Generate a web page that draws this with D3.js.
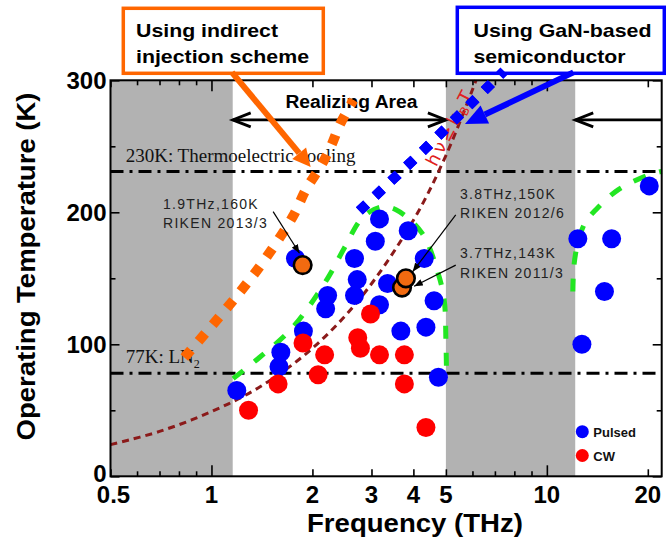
<!DOCTYPE html>
<html><head><meta charset="utf-8">
<script src="https://cdn.jsdelivr.net/npm/d3@7"></script>
<style>body{margin:0;background:#fff}svg{display:block}</style>
</head><body>
<script>
// ---------- data ----------
const pulsedFreq = [1.19,1.61,1.59,1.88,2.22,2.19,1.78,3.17,3.86,3.08,2.67,4.31,2.72,3.35,2.67,3.17,4.61,3.67,4.36,4.75,20.2,12.37,15.6,14.85,12.72];
const pulsedTemp = [65,94,83,110,137,127,165,195,186,178,165,165,149,146,137,130,133,110,113,75,220,180,180,140,100];
const cwFreq = [1.29,1.58,1.875,2.175,2.08,2.98,2.73,2.78,3.17,3.76,3.76,4.36];
const cwTemp = [50,70,101,92,77,123,105,97,92,92,70,37];
const rikenFreq = [1.87,3.7,3.8];
const rikenTemp = [160,143,150];
const rikenLabel1 = ["1.9THz,160K","3.7THz,143K","3.8THz,150K"];
const rikenLabel2 = ["RIKEN 2013/3","RIKEN 2011/3","RIKEN 2012/6"];

const indirectFreq = [0.83,1.01,1.22,1.44,1.75,1.92,2.13,2.28,2.41,2.65];
const indirectTemp = [90,115,140,164,197,218,236,251,266,285];
const ganFreq = [2.76,4.33,7.45];
const ganTemp = [201,248,307];
const hvFreq = [0.5,0.7,1,1.4,2,2.8,4,5,6.15];
const hvTemp = [24,34,49,68,97,136,194,243,300];
const green1Freq = [1.16,1.39,1.75,2.22,2.49,2.82,3.2,3.55,4.25,4.71,4.94,5.0,5.02];
const green1Temp = [74,90,113,150,173,196,204,202,184,156,134,103,80];
const green2Freq = [11.95,12.05,12.4,13.0,14.0,16.3,20,22];
const green2Temp = [140,160,178,192,202,217,228,231];

const grayStart = [0.5,5];
const grayEnd = [1.157,12.15];
const levelTemps = [231,78];

const xTickLabels = [0.5,1,2,3,4,5,10,20];
const xDecadeTicks = [1,10];
const xMidTicks = [0.5,2,3,4,5,20];
const xMinorTicks = [0.6,0.7,0.8,0.9,6,7,8,9];
const yMajorTicks = [0,100,200,300];
const yMinorTicks = [50,150,250];

// ---------- setup ----------
const W=666,H=544;
const svg=d3.select("body").append("svg").attr("width",W).attr("height",H)
  .style("font-family","'Liberation Sans', Arial, sans-serif");
const x=d3.scaleLog().domain([0.5,22]).range([110.5,661.7]);
const y=d3.scaleLinear().domain([0,300]).range([476.3,80.3]);
const X0=x.range()[0],X1=x.range()[1],Y0=y.range()[0],Y1=y.range()[1];

const defs=svg.append("defs");
defs.append("marker").attr("id","ah").attr("viewBox","0 0 10 8").attr("refX",10).attr("refY",4)
  .attr("markerWidth",9).attr("markerHeight",7).attr("markerUnits","userSpaceOnUse").attr("orient","auto")
  .append("path").attr("d","M0,0L10,4L0,8z").attr("fill","#000");

// gray regions
svg.selectAll("rect.gray").data(grayStart).join("rect").attr("class","gray")
  .attr("x",d=>x(d)).attr("width",(d,i)=>x(grayEnd[i])-x(d))
  .attr("y",Y1).attr("height",Y0-Y1).attr("fill","#b2b2b2");

// level lines
svg.selectAll("line.level").data(levelTemps).join("line")
  .attr("x1",X0).attr("x2",X1).attr("y1",d=>y(d)).attr("y2",d=>y(d))
  .attr("stroke","#000").attr("stroke-width",3).attr("stroke-dasharray","13,6,3,6");

// level labels
svg.append("text").attr("x",x(0.555)).attr("y",y(levelTemps[0])-9)
  .style("font-family","'Liberation Serif','Times New Roman',serif").style("font-size","19px").attr("fill","#111")
  .text("230K: Thermoelectric cooling");
const lvl2=svg.append("text").attr("x",x(0.555)).attr("y",y(levelTemps[1])-10)
  .style("font-family","'Liberation Serif','Times New Roman',serif").style("font-size","19px").attr("fill","#111");
lvl2.append("tspan").text("77K: LN");
lvl2.append("tspan").attr("dy",5).style("font-size","12px").text("2");

const line=(fs,ts,curve)=>d3.line().x(d=>x(d[0])).y(d=>y(d[1])).curve(curve||d3.curveCatmullRom)(fs.map((f,i)=>[f,ts[i]]));

// hv=kBT curve
svg.append("path").attr("d",line(hvFreq,hvTemp)).attr("fill","none")
  .attr("stroke","#8b1a1a").attr("stroke-width",3).attr("stroke-dasharray","7,5");

// green envelopes
[[green1Freq,green1Temp],[green2Freq,green2Temp]].forEach(([f,t])=>{
  svg.append("path").attr("d",line(f,t)).attr("fill","none")
    .attr("stroke","#22e622").attr("stroke-width",5).attr("stroke-dasharray","13,14");
});

// Realizing area arrows
const arrT=270;
const g=svg.append("g").attr("stroke","#000").attr("stroke-width",2.8).attr("fill","none");
g.append("line").attr("x1",x(grayEnd[0])).attr("x2",x(grayStart[1])).attr("y1",y(arrT)).attr("y2",y(arrT));
function chevron(px,py,dir){
  g.append("path").attr("d",`M${px+dir*18},${py-7}L${px},${py}L${px+dir*18},${py+7}`);
}
chevron(x(grayEnd[0]),y(arrT),1);
chevron(x(grayStart[1]),y(arrT),-1);
g.append("line").attr("x1",x(grayEnd[1])).attr("x2",X1).attr("y1",y(arrT)).attr("y2",y(arrT));
chevron(x(grayEnd[1]),y(arrT),1);
svg.append("text").attr("x",x(1.662)).attr("y",y(279)).style("font-weight","bold").style("font-size","18px")
  .attr("textLength",132).attr("lengthAdjust","spacingAndGlyphs").text("Realizing Area");

// indirect injection (orange dotted)
svg.append("path").attr("d",line(indirectFreq,indirectTemp)).attr("fill","none")
  .attr("stroke","#ff6600").attr("stroke-width",10).attr("stroke-dasharray","10,11.7");

// data circles
svg.selectAll("circle.pulsed").data(pulsedFreq).join("circle")
  .attr("cx",d=>x(d)).attr("cy",(d,i)=>y(pulsedTemp[i])).attr("r",9.5).attr("fill","#0000ff");
svg.selectAll("circle.cw").data(cwFreq).join("circle")
  .attr("cx",d=>x(d)).attr("cy",(d,i)=>y(cwTemp[i])).attr("r",9.5).attr("fill","#ff0000");
svg.selectAll("circle.riken").data(rikenFreq).join("circle")
  .attr("cx",d=>x(d)).attr("cy",(d,i)=>y(rikenTemp[i])).attr("r",8.8)
  .attr("fill","#f26a10").attr("stroke","#000").attr("stroke-width",2.6);

// annotation texts
const annX = [0.717,5.51,5.51];
const annT1 = [202.5,165.2,209.8];
const annT2 = [188.3,150,195.5];
const annFrom = [[1.527,200.5],[5.35,160],[5.35,198]];
const annTo = [[1.83,169],[4.02,144],[3.98,155]];
rikenLabel1.forEach((s,i)=>{
  const ts={"font-size":"14px","letter-spacing":"1.3px","fill":"#222"};
  const t1=svg.append("text").attr("x",x(annX[i])).attr("y",y(annT1[i])).text(s);
  const t2=svg.append("text").attr("x",x(annX[i])).attr("y",y(annT2[i])).text(rikenLabel2[i]);
  [t1,t2].forEach(t=>Object.entries(ts).forEach(([k,v])=>t.style(k,v)));
  svg.append("line").attr("x1",x(annFrom[i][0])).attr("y1",y(annFrom[i][1]))
    .attr("x2",x(annTo[i][0])).attr("y2",y(annTo[i][1]))
    .attr("stroke","#000").attr("stroke-width",1.2).attr("marker-end","url(#ah)");
});

// hv label
const hvx=x(4.68), hvy=y(234);
const hvt=svg.append("text").attr("transform",`translate(${hvx},${hvy}) rotate(-63)`)
  .attr("fill","#e02020").style("font-size","18px").style("letter-spacing","3px")
  .style("font-family","'DejaVu Sans',sans-serif");
hvt.append("tspan").text("hν≥k");
hvt.append("tspan").attr("dy",4).style("font-size","12px").text("B");
hvt.append("tspan").attr("dy",-4).text("T");

// GaN (blue dotted)
svg.append("path").attr("d",line(ganFreq,ganTemp,d3.curveLinear)).attr("fill","none")
  .attr("stroke","#0000ff").attr("stroke-width",10).attr("stroke-dasharray","10,11.7");

// axes / frame
function ax(gen,tx,ty){
  const a=svg.append("g").attr("transform",`translate(${tx},${ty})`).call(gen);
  a.select(".domain").remove();
  a.selectAll("line").attr("stroke-width",1.6);
  return a;
}
ax(d3.axisLeft(y).tickValues(yMajorTicks).tickSize(-9).tickFormat(""),X0,0);
ax(d3.axisLeft(y).tickValues(yMinorTicks).tickSize(-5).tickFormat(""),X0,0);
ax(d3.axisRight(y).tickValues(yMajorTicks).tickSize(-9).tickFormat(""),X1,0);
ax(d3.axisRight(y).tickValues(yMinorTicks).tickSize(-5).tickFormat(""),X1,0);
[[xDecadeTicks,11],[xMidTicks,7],[xMinorTicks,5]].forEach(([v,s])=>{
  ax(d3.axisBottom(x).tickValues(v).tickSize(-s).tickFormat(""),0,Y0);
  ax(d3.axisTop(x).tickValues(v).tickSize(-s).tickFormat(""),0,Y1);
});
svg.append("rect").attr("x",X0).attr("y",Y1).attr("width",X1-X0).attr("height",Y0-Y1)
  .attr("fill","none").attr("stroke","#000").attr("stroke-width",2);

// tick labels
svg.selectAll("text.yl").data(yMajorTicks).join("text")
  .attr("x",X0-4).attr("y",d=>y(d)+(d===0?6:8.5)).attr("text-anchor","end")
  .style("font-weight","bold").style("font-size","24px").text(d=>d);
svg.selectAll("text.xl").data(xTickLabels).join("text")
  .attr("x",d=>x(d)+(d===0.5?3:0)).attr("y",Y0+27).attr("text-anchor","middle")
  .style("font-weight","bold").style("font-size","24px").text(d=>d);

// axis titles
svg.append("text").attr("x",415).attr("y",532).attr("text-anchor","middle")
  .style("font-weight","bold").style("font-size","25px")
  .attr("textLength",216).attr("lengthAdjust","spacingAndGlyphs").text("Frequency  (THz)");
svg.append("text").attr("transform","translate(35,266.5) rotate(-90)").attr("text-anchor","middle")
  .style("font-weight","bold").style("font-size","25px")
  .attr("textLength",348).attr("lengthAdjust","spacingAndGlyphs").text("Operating Temperature (K)");

// callout boxes
svg.append("rect").attr("x",123.3).attr("y",8.3).attr("width",200).attr("height",65)
  .attr("fill","#fff").attr("stroke","#ff6600").attr("stroke-width",3.5);
svg.append("text").attr("x",136).attr("y",37.3).style("font-weight","bold").style("font-size","19px")
  .attr("textLength",142).attr("lengthAdjust","spacingAndGlyphs").text("Using indirect");
svg.append("text").attr("x",136).attr("y",63.3).style("font-weight","bold").style("font-size","19px")
  .attr("textLength",173).attr("lengthAdjust","spacingAndGlyphs").text("injection scheme");
svg.append("rect").attr("x",457.3).attr("y",7.3).attr("width",207).attr("height",66)
  .attr("fill","#fff").attr("stroke","#0000ff").attr("stroke-width",3.5);
svg.append("text").attr("x",473.5).attr("y",37).style("font-weight","bold").style("font-size","19px")
  .attr("textLength",178).attr("lengthAdjust","spacingAndGlyphs").text("Using GaN-based");
svg.append("text").attr("x",473.5).attr("y",63).style("font-weight","bold").style("font-size","19px")
  .attr("textLength",152).attr("lengthAdjust","spacingAndGlyphs").text("semiconductor");

// GaN dotted line drawn again so its top end sits over the box edge
svg.append("path").attr("d",line(ganFreq,ganTemp,d3.curveLinear)).attr("fill","none")
  .attr("stroke","#0000ff").attr("stroke-width",10).attr("stroke-dasharray","10,11.7");

// thick callout arrows
function bigArrow(f0,t0,f1,t1,col,hl,hw){
  const x0=x(f0),y0=y(t0),x1=x(f1),y1=y(t1);
  const dx=x1-x0,dy=y1-y0,L=Math.hypot(dx,dy),ux=dx/L,uy=dy/L;
  const bx=x1-ux*hl,by=y1-uy*hl;
  svg.append("line").attr("x1",x0).attr("y1",y0).attr("x2",bx).attr("y2",by)
    .attr("stroke",col).attr("stroke-width",6);
  svg.append("path").attr("d",`M${x1},${y1}L${bx-uy*hw},${by+ux*hw}L${bx+uy*hw},${by-ux*hw}Z`).attr("fill",col);
}
bigArrow(1.151,306,1.976,234.3,"#ff6600",18,9);
bigArrow(12.0,306,5.70,266.9,"#0000ff",22,10);

// legend
const legNames=["Pulsed","CW"], legCols=["#0000ff","#ff0000"], legY=[431.7,455.5];
legNames.forEach((n,i)=>{
  svg.append("circle").attr("cx",582.3).attr("cy",legY[i]).attr("r",6.5).attr("fill",legCols[i]);
  svg.append("text").attr("x",593.3).attr("y",legY[i]+5).style("font-weight","bold").style("font-size","13px")
    .attr("fill","#111").text(n);
});
</script>
</body></html>
